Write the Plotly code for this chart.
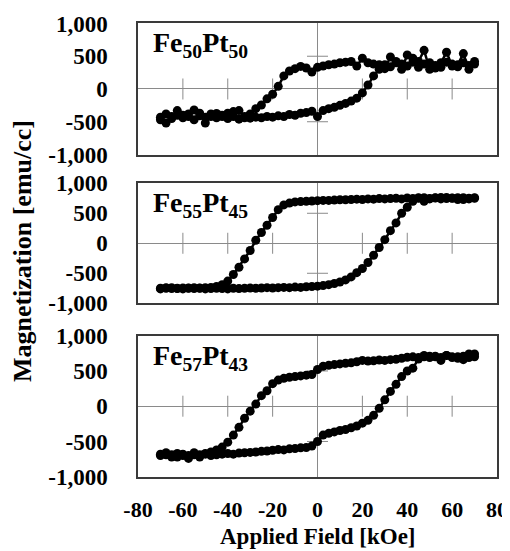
import plotly.graph_objects as go

# ---------------- data ----------------
FIELD_DOWN = [70, 67.5, 65, 62.5, 60, 57.5, 55, 52.5, 50, 47.5,
              45, 42.5, 40, 37.5, 35, 32.5, 30, 27.5, 25, 22.5,
              20, 17.5, 15, 12.5, 10, 7.5, 5, 2.5, 0, -2.5,
              -5, -7.5, -10, -12.5, -15, -17.5, -20, -22.5, -25, -27.5,
              -30, -32.5, -35, -37.5, -40, -42.5, -45, -47.5, -50, -52.5,
              -55, -57.5, -60, -62.5, -65, -67.5, -70]
FIELD_UP = [-70, -67.5, -65, -62.5, -60, -57.5, -55, -52.5, -50, -47.5,
            -45, -42.5, -40, -37.5, -35, -32.5, -30, -27.5, -25, -22.5,
            -20, -17.5, -15, -12.5, -10, -7.5, -5, -2.5, 0, 2.5,
            5, 7.5, 10, 12.5, 15, 17.5, 20, 22.5, 25, 27.5,
            30, 32.5, 35, 37.5, 40, 42.5, 45, 47.5, 50, 52.5,
            55, 57.5, 60, 62.5, 65, 67.5, 70]

# Fe50Pt50
M50_DOWN = [420, 300, 540, 370, 350, 560, 400, 320, 300, 590,
            420, 470, 520, 300, 420, 490, 310, 370, 380, 400,
            470, 350, 420, 410, 400, 380, 370, 350, 330, 260,
            320, 345, 310, 275, 200, 40, -80, -150, -245, -300,
            -380, -420, -330, -345, -370, -420, -375, -420, -520, -370,
            -320, -420, -400, -330, -420, -520, -470]
M50_UP = [-430, -380, -450, -400, -440, -380, -470, -410, -430, -380,
          -440, -400, -450, -420, -460, -440, -445, -430, -440, -420,
          -430, -410, -420, -390, -400, -370, -360, -340, -420, -330,
          -300, -280, -250, -220, -185, -140, -60, 60, 200, 300,
          370, 340, 400, 380, 350, 410, 330, 380, 400, 360,
          330, 410, 380, 340, 400, 360, 380]

# Fe55Pt45
M55_DOWN = [750, 740, 760, 730, 755, 765, 740, 760, 745, 700,
            760, 745, 755, 740, 750, 745, 740, 745, 735, 740,
            730, 735, 730, 725, 725, 720, 715, 715, 710, 705,
            700, 695, 690, 670, 640, 560, 430, 300, 180, 50,
            -120, -260, -400, -520, -630, -690, -720, -735, -740, -745,
            -740, -750, -745, -755, -740, -750, -760]
M55_UP = [-750, -740, -755, -750, -760, -745, -755, -750, -760, -755,
          -750, -755, -760, -750, -755, -750, -745, -750, -745, -740,
          -745, -740, -735, -740, -730, -735, -725, -720, -715, -705,
          -690, -670, -645, -610, -560, -490, -420, -320, -200, -70,
          60, 210, 340, 500, 600, 700, 750, 760, 740, 755,
          765, 745, 750, 760, 730, 750, 760]

# Fe57Pt43
M57_DOWN = [700, 740, 660, 700, 690, 720, 650, 700, 710, 720,
            690, 700, 695, 680, 665, 660, 650, 655, 645, 640,
            650, 630, 615, 610, 600, 590, 580, 565, 520, 450,
            440, 430, 420, 410, 395, 370, 320, 220, 150, 30,
            -70, -170, -300, -410, -510, -580, -620, -650, -670, -690,
            -660, -700, -680, -720, -690, -660, -680]
M57_UP = [-700, -690, -720, -670, -700, -740, -690, -720, -680, -700,
          -690, -680, -670, -680, -665, -660, -655, -650, -640, -635,
          -625, -615, -620, -605, -600, -590, -585, -565, -500, -410,
          -385, -365, -345, -330, -305, -280, -240, -200, -130, -30,
          90, 210, 310, 420, 500, 540, 670, 700, 690, 710,
          690, 720, 700, 680, 710, 690, 740]

SAMPLES = ["Fe<sub>50</sub>Pt<sub>50</sub>",
           "Fe<sub>55</sub>Pt<sub>45</sub>",
           "Fe<sub>57</sub>Pt<sub>43</sub>"]
LOOPS = [(M50_DOWN, M50_UP), (M55_DOWN, M55_UP), (M57_DOWN, M57_UP)]

Y_TICKVALS = [-1000, -500, 0, 500, 1000]
Y_TICKTEXT = ["-1,000", "-500", "0", "500", "1,000"]
X_TICKVALS = [-80, -60, -40, -20, 0, 20, 40, 60, 80]
X_TICKTEXT = ["-80", "-60", "-40", "-20", "0", "20", "40", "60", "80"]
CROSS_X = [-60, -40, -20, 20, 40, 60]
CROSS_Y = [-500, 500]

X_TITLE = "Applied Field [kOe]"
Y_TITLE = "Magnetization [emu/cc]"

# ---------------- figure ----------------
# The page body keeps the browser's default 8 px margin, so the figure is
# sized 8 px smaller than the 510x551 window on each axis.
FONT = "Liberation Serif"
GRAY = "#8a8a8a"
DOMAINS = [[0.7302, 0.9715], [0.4562, 0.6772], [0.1368, 0.3965]]

fig = go.Figure()
for i, (down, up) in enumerate(LOOPS, start=1):
    xa = "x" if i == 1 else f"x{i}"
    ya = "y" if i == 1 else f"y{i}"
    # cross ticks on the zero axes
    fig.add_trace(go.Scatter(x=CROSS_X, y=[0] * len(CROSS_X), xaxis=xa, yaxis=ya,
                             mode="markers", hoverinfo="skip", showlegend=False,
                             marker=dict(symbol="line-ns", size=15,
                                         line=dict(color=GRAY, width=1))))
    fig.add_trace(go.Scatter(x=[0] * len(CROSS_Y), y=CROSS_Y, xaxis=xa, yaxis=ya,
                             mode="markers", hoverinfo="skip", showlegend=False,
                             marker=dict(symbol="line-ew", size=15,
                                         line=dict(color=GRAY, width=1))))
    fig.add_trace(go.Scatter(x=FIELD_DOWN + FIELD_UP, y=down + up, xaxis=xa, yaxis=ya,
                             mode="lines+markers", showlegend=False,
                             line=dict(color="black", width=2.5),
                             marker=dict(color="black", size=9)))

    xkey = "xaxis" if i == 1 else f"xaxis{i}"
    ykey = "yaxis" if i == 1 else f"yaxis{i}"
    fig.update_layout({
        xkey: dict(domain=[0, 1], range=[-80, 80], anchor=ya, automargin=False,
                   showgrid=False, zeroline=True, zerolinecolor=GRAY, zerolinewidth=1,
                   showline=True, mirror=True, linecolor="#3a3a3a", linewidth=1.5,
                   ticks="", tickvals=X_TICKVALS, ticktext=X_TICKTEXT,
                   showticklabels=(i == 3), ticklabelstandoff=12,
                   ticklabeloverflow="allow",
                   tickfont=dict(family=FONT, size=22, color="black", weight="bold")),
        ykey: dict(domain=DOMAINS[i - 1], range=[-1000, 1000], anchor=xa, automargin=False,
                   showgrid=False, zeroline=True, zerolinecolor=GRAY, zerolinewidth=1,
                   showline=True, mirror=True, linecolor="#3a3a3a", linewidth=1.5,
                   ticks="", tickvals=Y_TICKVALS, ticktext=Y_TICKTEXT,
                   ticklabelstandoff=24, ticklabeloverflow="allow",
                   tickfont=dict(family=FONT, size=23, color="black", weight="bold")),
    })
    fig.add_annotation(text=SAMPLES[i - 1], xref=f"{xa} domain", yref=f"{ya} domain",
                       x=0.035, y=0.985, xanchor="left", yanchor="top", showarrow=False,
                       font=dict(family=FONT, size=28, color="black", weight="bold"))

fig.add_annotation(text=Y_TITLE, xref="paper", yref="paper", x=-0.32, y=0.5525,
                   xanchor="center", yanchor="middle", textangle=-90, showarrow=False,
                   font=dict(family=FONT, size=26, color="black", weight="bold"))
fig.add_annotation(text=X_TITLE, xref="paper", yref="paper", x=0.5, y=0.027,
                   xanchor="center", yanchor="middle", showarrow=False,
                   font=dict(family=FONT, size=23, color="black", weight="bold"))

fig.update_layout(width=502, height=543, autosize=False,
                  margin=dict(l=130, r=13, t=0, b=0, pad=0, autoexpand=False),
                  paper_bgcolor="white", plot_bgcolor="white",
                  font=dict(family=FONT, color="black"))

fig.write_html("out.html")
